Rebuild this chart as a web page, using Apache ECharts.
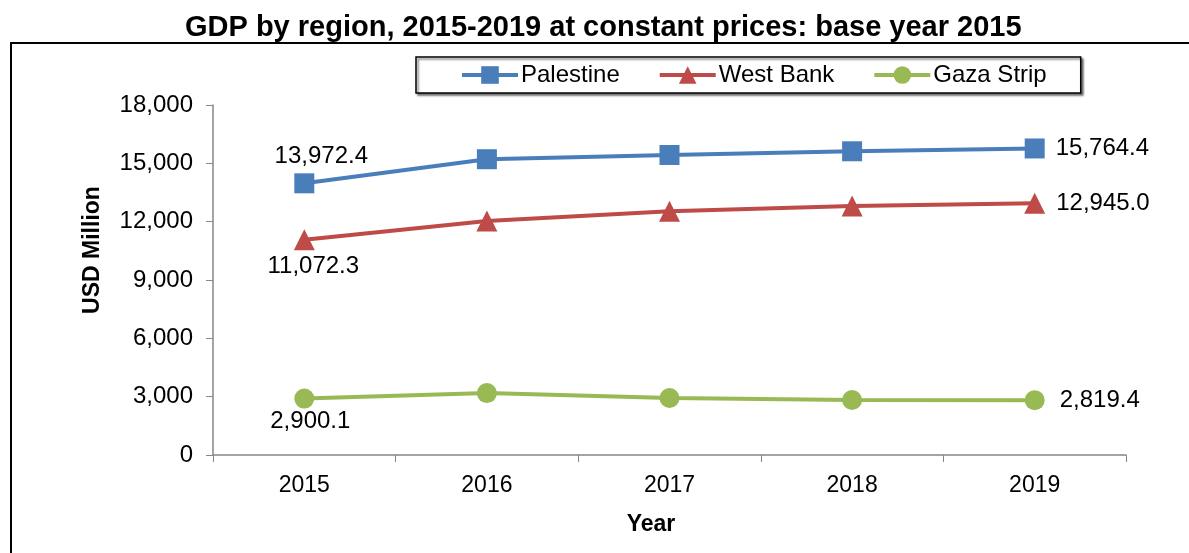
<!DOCTYPE html>
<html>
<head>
<meta charset="utf-8">
<script src="https://cdn.jsdelivr.net/npm/echarts@6/dist/echarts.min.js"></script>
<style>
  html, body { margin: 0; padding: 0; background: #fff; }
  #chart { width: 1189px; height: 553px; }
</style>
</head>
<body>
<div id="chart"></div>
<script>
// GDP by region, USD million at constant 2015 prices
const years = ['2015', '2016', '2017', '2018', '2019'];
const palestine = [13972.4, 15212, 15430, 15620, 15764.4];
const westBank = [11072.3, 12030, 12540, 12800, 12945.0];
const gazaStrip = [2900.1, 3185, 2930, 2830, 2819.4];
const yTicks = [0, 3000, 6000, 9000, 12000, 15000, 18000];

const FONT = '"Liberation Sans", Arial, sans-serif';
const fmt = v => v.toLocaleString('en-US', { minimumFractionDigits: 1, maximumFractionDigits: 1 });

// label only the first and last point of each line
function withEndLabels(values, firstLabel, lastLabel) {
  return values.map((v, i) => {
    if (i === 0) return { value: v, label: Object.assign({ show: true }, firstLabel) };
    if (i === values.length - 1) return { value: v, label: Object.assign({ show: true }, lastLabel) };
    return v;
  });
}

const labelText = { color: '#000', fontSize: 24, fontFamily: FONT, formatter: p => fmt(p.value) };
const axisNameStyle = { fontFamily: FONT, fontSize: 23, fontWeight: 'bold', fill: '#000' };

const chart = echarts.init(document.getElementById('chart'), null, { renderer: 'canvas' });
chart.setOption({
  animation: false,
  backgroundColor: '#fff',
  title: {
    text: 'GDP by region, 2015-2019 at constant prices: base year 2015',
    left: 185, top: 13, padding: 0,
    textStyle: { fontFamily: FONT, fontSize: 29, fontWeight: 'bold', color: '#000' }
  },
  graphic: [
    {
      type: 'rect', silent: true, z: -1,
      shape: { x: 11, y: 43, width: 1200, height: 600 },
      style: { fill: 'none', stroke: '#000', lineWidth: 2 }
    },
    {
      // y axis title
      type: 'text', silent: true,
      x: 93, y: 250, rotation: Math.PI / 2,
      style: Object.assign({ text: 'USD Million', align: 'center', verticalAlign: 'middle' }, axisNameStyle)
    },
    {
      // x axis title
      type: 'text', silent: true,
      x: 651, y: 525,
      style: Object.assign({ text: 'Year', align: 'center', verticalAlign: 'middle' }, axisNameStyle)
    }
  ],
  legend: {
    left: 416, top: 57,
    padding: [6, 34, 6, 44],
    itemGap: 38,
    itemWidth: 56, itemHeight: 22,
    borderColor: '#000', borderWidth: 1.5,
    shadowColor: 'rgba(0,0,0,0.5)', shadowOffsetX: 2, shadowOffsetY: 2, shadowBlur: 2,
    backgroundColor: '#fff',
    lineStyle: { width: 4 },
    textStyle: { fontFamily: FONT, fontSize: 24, color: '#000', padding: [0, 0, 0, -2] },
    data: ['Palestine', 'West Bank', 'Gaza Strip']
  },
  grid: { left: 213, right: 63, top: 105, bottom: 98 },
  xAxis: {
    type: 'category',
    data: years,
    boundaryGap: true,
    axisLine: { lineStyle: { color: '#868686', width: 1.5 } },
    axisTick: { show: true, length: 7, interval: 0, lineStyle: { color: '#868686' } },
    axisLabel: { margin: 19, fontFamily: FONT, fontSize: 23, color: '#000' }
  },
  yAxis: {
    type: 'value',
    min: yTicks[0], max: yTicks[yTicks.length - 1], interval: 3000,
    axisLine: { show: true, lineStyle: { color: '#868686', width: 1.5 } },
    axisTick: { show: true, length: 7, lineStyle: { color: '#868686' } },
    splitLine: { show: false },
    axisLabel: {
      margin: 20, fontFamily: FONT, fontSize: 24, color: '#000',
      formatter: v => v.toLocaleString('en-US')
    }
  },
  series: [
    {
      name: 'Palestine', type: 'line',
      symbol: 'rect', symbolSize: 20,
      lineStyle: { width: 4, color: '#4a7ebb' },
      itemStyle: { color: '#4a7ebb' },
      label: labelText,
      data: withEndLabels(palestine,
        { position: 'top', offset: [17, 0], distance: 5 },
        { position: 'right', distance: 11 })
    },
    {
      name: 'West Bank', type: 'line',
      symbol: 'triangle', symbolSize: 21,
      lineStyle: { width: 4, color: '#be4b48' },
      itemStyle: { color: '#be4b48' },
      label: labelText,
      data: withEndLabels(westBank,
        { position: 'bottom', offset: [9, 0], distance: 4 },
        { position: 'right', distance: 11 })
    },
    {
      name: 'Gaza Strip', type: 'line',
      symbol: 'circle', symbolSize: 20,
      lineStyle: { width: 4, color: '#98b954' },
      itemStyle: { color: '#98b954' },
      label: labelText,
      data: withEndLabels(gazaStrip,
        { position: 'bottom', offset: [6, 0], distance: 1 },
        { position: 'right', distance: 15 })
    }
  ]
});
</script>
</body>
</html>
